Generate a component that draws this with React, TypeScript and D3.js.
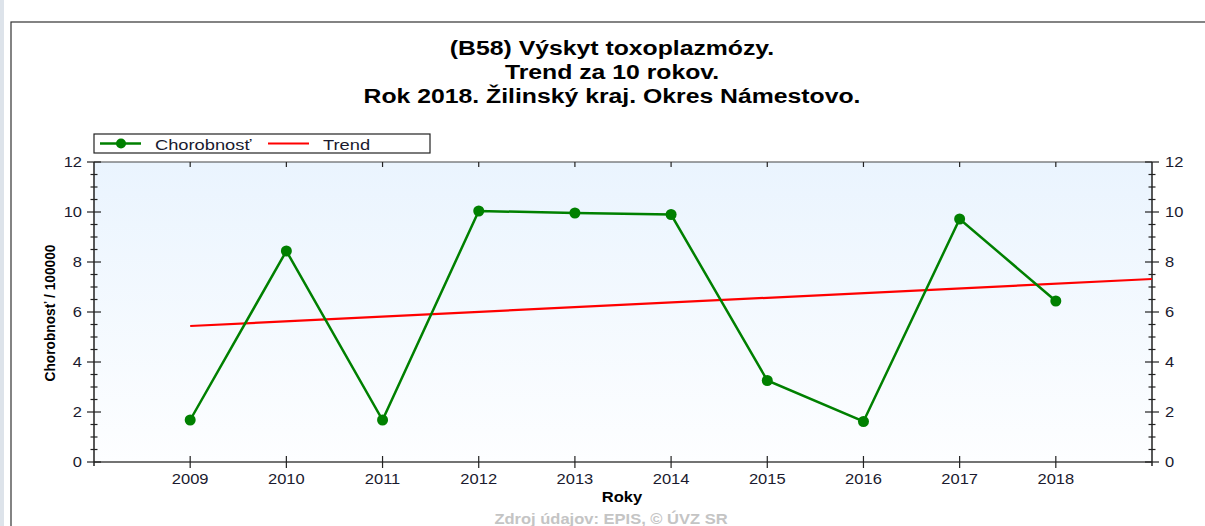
import { useEffect, useRef } from "react";
import * as d3 from "d3";

// data
const years = [2009, 2010, 2011, 2012, 2013, 2014, 2015, 2016, 2017, 2018];
const chorobnost = [1.68, 8.44, 1.68, 10.04, 9.96, 9.9, 3.26, 1.62, 9.72, 6.44];
const trendYears = [2009, 2019];
const trendValues = [5.44, 7.32];
const yTicks = [0, 2, 4, 6, 8, 10, 12];
const titleLines = [
  "(B58) Výskyt toxoplazmózy.",
  "Trend za 10 rokov.",
  "Rok 2018. Žilinský kraj. Okres Námestovo.",
];

const W = 1205;
const H = 526;
const FONT = "'Liberation Sans', Arial, sans-serif";
const TEXT = "#1a1a2e";
// the source image is stretched horizontally, so is its text
const SX = 1.18;

const App = () => {
  const svgRef = useRef<SVGSVGElement>(null);

  useEffect(() => {
    const svg = d3.select(svgRef.current);
    svg.selectAll("*").remove();

    const left = 94, right = 1152, top = 162, bottom = 462;

    const x = d3.scaleLinear().domain([2008, 2019]).range([left, right]);
    const y = d3.scaleLinear().domain([0, 12]).range([bottom, top]);

    // text placed at (tx, ty) and widened by SX
    const label = (g: any, tx: number, ty: number, s: string, size: number,
      anchor = "start", bold = false, fill = TEXT) =>
      g.append("text")
        .attr("transform", `translate(${tx},${ty}) scale(${SX},1)`)
        .attr("text-anchor", anchor)
        .attr("font-family", FONT).attr("font-size", size)
        .attr("font-weight", bold ? "bold" : "normal")
        .attr("fill", fill)
        .text(s);

    const defs = svg.append("defs");
    const bg = defs.append("linearGradient").attr("id", "plotbg")
      .attr("x1", 0).attr("y1", 0).attr("x2", 0).attr("y2", 1);
    bg.append("stop").attr("offset", "0%").attr("stop-color", "#eaf4fe");
    bg.append("stop").attr("offset", "100%").attr("stop-color", "#fdfeff");

    // page strip + outer frame
    svg.append("rect").attr("x", 0).attr("y", 0).attr("width", 4).attr("height", H).attr("fill", "#dde3ea");
    svg.append("rect").attr("x", 11).attr("y", 22).attr("width", W + 10).attr("height", H + 10)
      .attr("fill", "#fff").attr("stroke", "#333").attr("stroke-width", 1.2);

    // title
    const gt = svg.append("g");
    titleLines.forEach((t, i) => label(gt, 612, 55 + i * 24, t, 21, "middle", true, "#000"));

    // plot area
    svg.append("rect").attr("x", left).attr("y", top)
      .attr("width", right - left).attr("height", bottom - top).attr("fill", "url(#plotbg)");

    const axisColor = "#222";

    svg.append("line").attr("x1", left).attr("x2", right).attr("y1", top).attr("y2", top)
      .attr("stroke", "#444").attr("stroke-width", 1.2);
    svg.append("line").attr("x1", left).attr("x2", right).attr("y1", bottom).attr("y2", bottom)
      .attr("stroke", "#444").attr("stroke-width", 1.5);
    svg.append("line").attr("x1", left).attr("x2", left).attr("y1", top).attr("y2", bottom + 4)
      .attr("stroke", axisColor).attr("stroke-width", 1.5);
    svg.append("line").attr("x1", right).attr("x2", right).attr("y1", top).attr("y2", bottom + 4)
      .attr("stroke", axisColor).attr("stroke-width", 1.5);

    // y ticks (major + minor) on both sides
    const minor = d3.range(0, 12.01, 0.5).filter(v => v % 2 !== 0);
    [left, right].forEach(ax => {
      const g = svg.append("g");
      g.selectAll("line.maj").data(yTicks).join("line").attr("class", "maj")
        .attr("x1", ax - 7).attr("x2", ax + 7)
        .attr("y1", d => y(d)).attr("y2", d => y(d))
        .attr("stroke", axisColor).attr("stroke-width", 1.2);
      g.selectAll("line.min").data(minor).join("line").attr("class", "min")
        .attr("x1", ax - 3.5).attr("x2", ax + 3.5)
        .attr("y1", d => y(d)).attr("y2", d => y(d))
        .attr("stroke", axisColor).attr("stroke-width", 1.2);
      yTicks.forEach(v =>
        label(g, ax === left ? ax - 12 : ax + 13, y(v) + 5, String(v), 14,
          ax === left ? "end" : "start"));
    });

    // x ticks
    const gx = svg.append("g");
    gx.selectAll("line.b").data(years).join("line").attr("class", "b")
      .attr("x1", d => x(d)).attr("x2", d => x(d))
      .attr("y1", bottom - 6).attr("y2", bottom + 6)
      .attr("stroke", axisColor).attr("stroke-width", 1.2);
    gx.selectAll("line.t").data(years).join("line").attr("class", "t")
      .attr("x1", d => x(d)).attr("x2", d => x(d))
      .attr("y1", top).attr("y2", top + 5)
      .attr("stroke", axisColor).attr("stroke-width", 1.2);
    years.forEach(t => label(gx, x(t), bottom + 22, String(t), 14, "middle"));

    // axis titles
    label(svg, 622, 502, "Roky", 14, "middle", true, "#000");
    svg.append("text")
      .attr("transform", `translate(55,313) rotate(-90) scale(1,${SX})`)
      .attr("text-anchor", "middle")
      .attr("font-family", FONT).attr("font-weight", "bold").attr("font-size", 13)
      .attr("textLength", 137).attr("lengthAdjust", "spacingAndGlyphs")
      .text("Chorobnosť / 100000");
    label(svg, 611, 524, "Zdroj údajov: EPIS, © ÚVZ SR", 14, "middle", true, "#c4c4c4");

    // trend line
    const line = d3.line<[number, number]>().x(d => x(d[0])).y(d => y(d[1]));
    svg.append("path")
      .attr("d", line(trendYears.map((t, i) => [t, trendValues[i]] as [number, number])))
      .attr("fill", "none").attr("stroke", "#ff0000").attr("stroke-width", 2.2);

    // chorobnost line + markers
    const pts = years.map((t, i) => [t, chorobnost[i]] as [number, number]);
    svg.append("path").attr("d", line(pts))
      .attr("fill", "none").attr("stroke", "#008000").attr("stroke-width", 2.5);
    svg.append("g").selectAll("circle").data(pts).join("circle")
      .attr("cx", d => x(d[0])).attr("cy", d => y(d[1])).attr("r", 5.5)
      .attr("fill", "#008000");

    // legend
    const lg = svg.append("g");
    lg.append("rect").attr("x", 94).attr("y", 134).attr("width", 336).attr("height", 19)
      .attr("fill", "#fff").attr("stroke", "#222").attr("stroke-width", 1.2);
    lg.append("line").attr("x1", 100).attr("x2", 141).attr("y1", 143.5).attr("y2", 143.5)
      .attr("stroke", "#008000").attr("stroke-width", 2.5);
    lg.append("circle").attr("cx", 121).attr("cy", 143.5).attr("r", 5).attr("fill", "#008000");
    label(lg, 155, 149.5, "Chorobnosť", 15.5);
    lg.append("line").attr("x1", 268).attr("x2", 309).attr("y1", 143.5).attr("y2", 143.5)
      .attr("stroke", "#ff0000").attr("stroke-width", 2.2);
    label(lg, 323, 149.5, "Trend", 15.5);
  }, []);

  return (
    <svg ref={svgRef} width={W} height={H}
      style={{ position: "absolute", left: 0, top: 0, display: "block" }} />
  );
};

export default App;
